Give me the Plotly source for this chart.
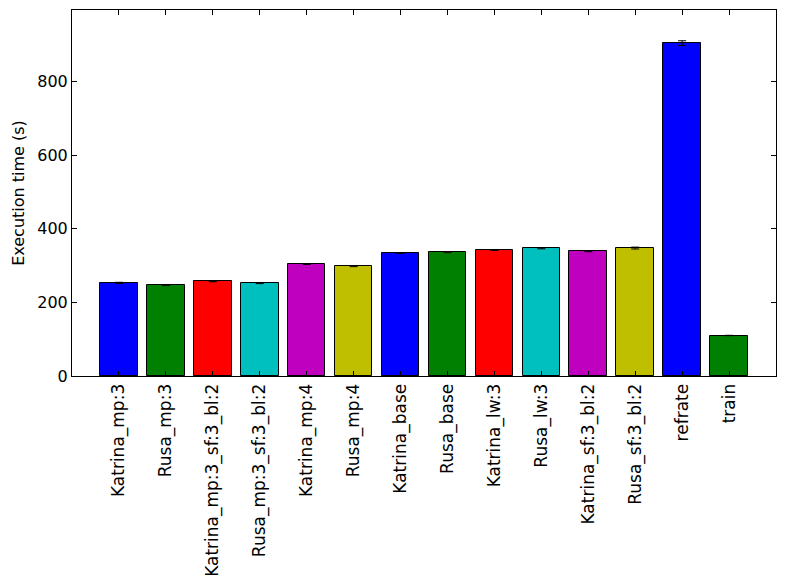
import plotly.graph_objects as go

categories = ["Katrina_mp:3", "Rusa_mp:3", "Katrina_mp:3_sf:3_bl:2", "Rusa_mp:3_sf:3_bl:2",
              "Katrina_mp:4", "Rusa_mp:4", "Katrina_base", "Rusa_base", "Katrina_lw:3",
              "Rusa_lw:3", "Katrina_sf:3_bl:2", "Rusa_sf:3_bl:2", "refrate", "train"]
values = [253, 247, 257, 252.5, 304, 298.5, 334, 336.5, 342, 347, 339, 347.5, 904, 110]
errors = [1.5, 1.5, 1, 1.5, 1, 1.5, 1, 1.5, 1, 1.5, 1.5, 2.5, 6.5, 0.5]
colors = ["#0000ff", "#008000", "#ff0000", "#00bfbf", "#bf00bf", "#bfbf00", "#0000ff",
          "#008000", "#ff0000", "#00bfbf", "#bf00bf", "#bfbf00", "#0000ff", "#008000"]
y_ticks = [0, 200, 400, 600, 800]

fig = go.Figure()
fig.add_trace(go.Bar(
    x=list(range(len(categories))),
    y=values,
    width=0.8,
    marker=dict(color=colors, line=dict(color="black", width=1)),
    error_y=dict(type="data", array=errors, visible=True, color="black", thickness=1, width=4),
))

font = dict(family="DejaVu Sans", size=16, color="black")
xfont = dict(family="DejaVu Sans", size=17, color="black")
fig.update_layout(
    width=785, height=582,
    margin=dict(l=72, r=9, t=10, b=206),
    plot_bgcolor="white", paper_bgcolor="white",
    font=font,
    showlegend=False,
    bargap=0,
)
fig.update_xaxes(
    range=[-1, len(categories)],
    tickmode="array", tickvals=list(range(len(categories))), ticktext=categories,
    tickangle=-90, ticks="inside", ticklen=5, tickcolor="black",
    showline=True, linecolor="black", linewidth=1, mirror="ticks",
    showgrid=False, zeroline=False, tickfont=xfont, automargin=False,
)
fig.update_yaxes(
    range=[0, 994],
    tickmode="array", tickvals=y_ticks, ticktext=[str(v) for v in y_ticks],
    ticks="inside", ticklen=5, tickcolor="black",
    showline=True, linecolor="black", linewidth=1, mirror="ticks",
    showgrid=False, zeroline=False, tickfont=font, automargin=False,
    title=dict(text="Execution time (s)", font=font, standoff=8),
)
fig.write_html("out.html")
